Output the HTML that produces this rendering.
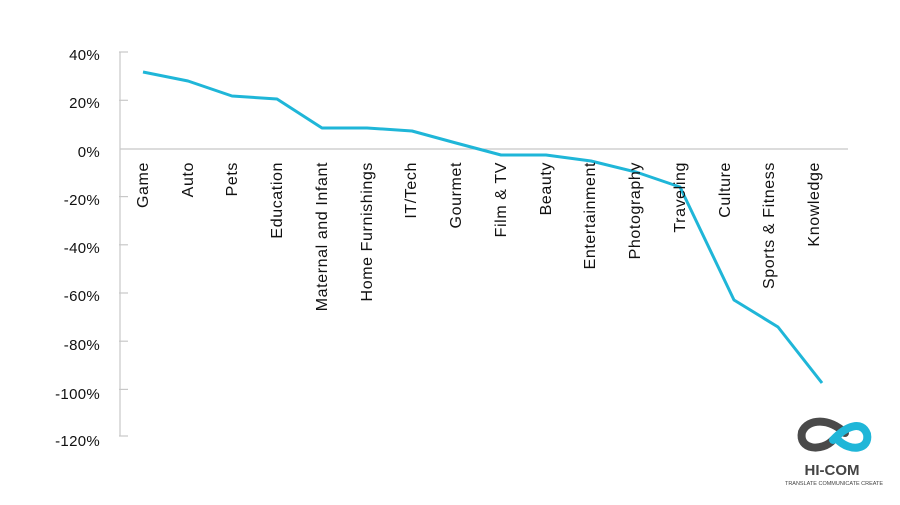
<!DOCTYPE html>
<html><head><style>
body{margin:0;background:#fff;}
text{font-family:"Liberation Sans",sans-serif;fill:#111;}
</style></head><body>
<svg width="900" height="500" viewBox="0 0 900 500">
<g stroke="#c8c8c8" stroke-width="1.2" fill="none">
<line x1="120" y1="52" x2="120" y2="436"/>
<line x1="120" y1="149" x2="848" y2="149"/>
<line x1="119" y1="52" x2="128" y2="52"/>
<line x1="119" y1="100.3" x2="128" y2="100.3"/>
<line x1="119" y1="196.6" x2="128" y2="196.6"/>
<line x1="119" y1="244.8" x2="128" y2="244.8"/>
<line x1="119" y1="293" x2="128" y2="293"/>
<line x1="119" y1="341.2" x2="128" y2="341.2"/>
<line x1="119" y1="389.4" x2="128" y2="389.4"/>
<line x1="119" y1="436" x2="128" y2="436"/>
</g>
<g font-size="15" text-anchor="end" letter-spacing="0.3">
<text x="100" y="60">40%</text>
<text x="100" y="108">20%</text>
<text x="100" y="157">0%</text>
<text x="100" y="205">-20%</text>
<text x="100" y="253">-40%</text>
<text x="100" y="301">-60%</text>
<text x="100" y="350">-80%</text>
<text x="100" y="399">-100%</text>
<text x="100" y="446">-120%</text>
</g>
<polyline fill="none" stroke="#1fb6d8" stroke-width="3" stroke-linejoin="round"
points="143,72 188,81 232,96 277,99 322,128 367,128 412,131 456,143 501,155 546,155 591,161 636,172 680,187 734,300 778,327 822,383"/>
<g font-size="16" letter-spacing="0.6">
<text transform="translate(148,162) rotate(-90)" text-anchor="end">Game</text>
<text transform="translate(193,162) rotate(-90)" text-anchor="end">Auto</text>
<text transform="translate(237,162) rotate(-90)" text-anchor="end">Pets</text>
<text transform="translate(282,162) rotate(-90)" text-anchor="end">Education</text>
<text transform="translate(327,162) rotate(-90)" text-anchor="end">Maternal and Infant</text>
<text transform="translate(372,162) rotate(-90)" text-anchor="end">Home Furnishings</text>
<text transform="translate(416,162) rotate(-90)" text-anchor="end">IT/Tech</text>
<text transform="translate(461,162) rotate(-90)" text-anchor="end">Gourmet</text>
<text transform="translate(506,162) rotate(-90)" text-anchor="end">Film &amp; TV</text>
<text transform="translate(551,162) rotate(-90)" text-anchor="end">Beauty</text>
<text transform="translate(595,162) rotate(-90)" text-anchor="end">Entertainment</text>
<text transform="translate(640,162) rotate(-90)" text-anchor="end">Photography</text>
<text transform="translate(685,162) rotate(-90)" text-anchor="end">Traveling</text>
<text transform="translate(730,162) rotate(-90)" text-anchor="end">Culture</text>
<text transform="translate(774,162) rotate(-90)" text-anchor="end">Sports &amp; Fitness</text>
<text transform="translate(819,162) rotate(-90)" text-anchor="end">Knowledge</text>
</g>
<g fill="none" stroke-width="8" stroke-linecap="round">
<path d="M845,433 C830,418 808,418 802,432 C798,450 822,452 833,440" stroke="#4a4a4a"/>
<path d="M833,440 C846,426 862,420 867,434 C870,450 850,452 838,440" stroke="#1fb6d8"/>
</g>
<text x="832" y="475" font-size="15" font-weight="bold" text-anchor="middle" style="fill:#444">HI-COM</text>
<text x="834" y="485" font-size="5.5" text-anchor="middle" style="fill:#444">TRANSLATE COMMUNICATE CREATE</text>
</svg>
</body></html>
